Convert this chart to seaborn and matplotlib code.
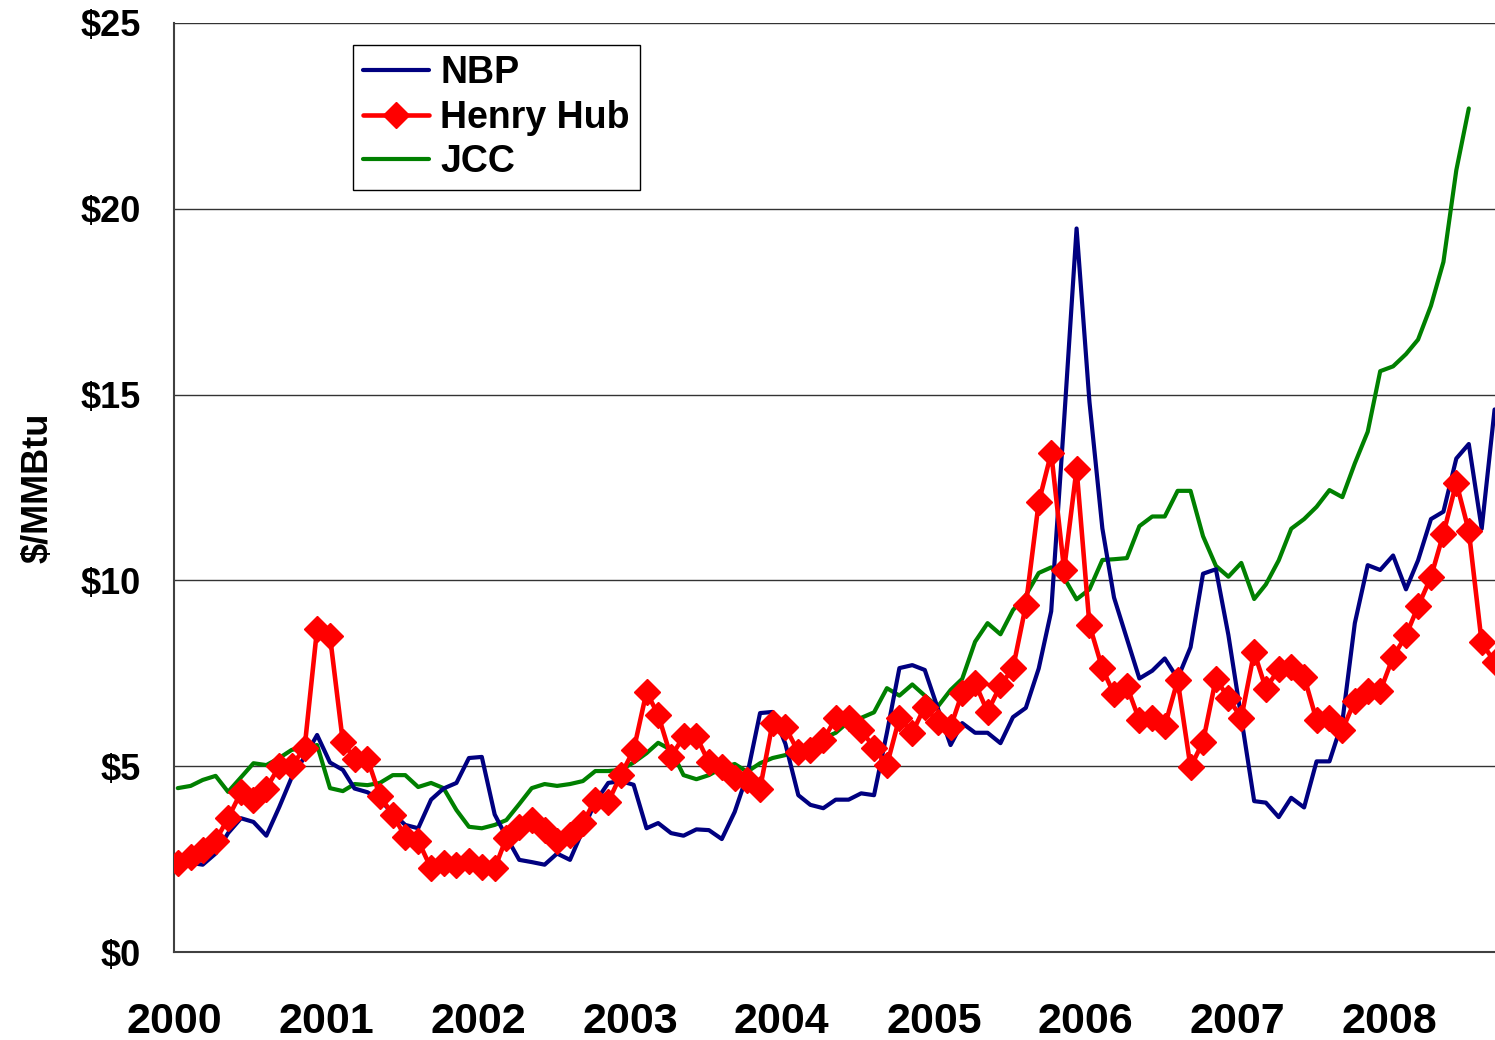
import pandas as pd
import matplotlib
matplotlib.use("Agg")
import matplotlib.pyplot as plt
import matplotlib.dates as mdates
import seaborn as sns

# monthly prices, $/MMBtu, Jan 2000 onwards
nbp = [2.4, 2.4, 2.35, 2.65, 3.2, 3.6, 3.5, 3.13, 3.9, 4.7, 5.25, 5.84,
       5.1, 4.9, 4.4, 4.3, 4.1, 3.73, 3.42, 3.33, 4.1, 4.4, 4.55, 5.22,
       5.25, 3.7, 3.1, 2.48, 2.42, 2.35, 2.65, 2.48, 3.28, 4.04, 4.55, 4.6,
       4.5, 3.33, 3.47, 3.2, 3.13, 3.3, 3.28, 3.04, 3.77, 4.76, 6.43, 6.46,
       5.6, 4.22, 3.96, 3.87, 4.1, 4.1, 4.27, 4.22, 5.9, 7.64, 7.72, 7.59,
       6.57, 5.57, 6.16, 5.9, 5.9, 5.62, 6.32, 6.57, 7.63, 9.17, 14.3, 19.47,
       14.8, 11.4, 9.54, 8.43, 7.36, 7.57, 7.9, 7.36, 8.2, 10.18, 10.3, 8.53,
       6.3, 4.06, 4.02, 3.63, 4.15, 3.89, 5.13, 5.13, 6.2, 8.85, 10.41, 10.28,
       10.67, 9.76, 10.54, 11.65, 11.85, 13.28, 13.67, 11.39, 14.6]

henry_hub = [2.4, 2.56, 2.74, 3.0, 3.6, 4.3, 4.1, 4.4, 5.0, 5.0, 5.5, 8.7,
             8.5, 5.65, 5.2, 5.2, 4.2, 3.7, 3.1, 3.0, 2.25, 2.4, 2.35, 2.45,
             2.3, 2.25, 3.07, 3.37, 3.55, 3.28, 3.0, 3.15, 3.47, 4.1, 4.04, 4.76,
             5.43, 7.0, 6.38, 5.25, 5.8, 5.8, 5.1, 4.98, 4.68, 4.63, 4.4, 6.15,
             6.05, 5.38, 5.43, 5.7, 6.3, 6.3, 5.97, 5.5, 5.03, 6.3, 5.9, 6.6,
             6.2, 6.05, 6.97, 7.24, 6.46, 7.18, 7.63, 9.33, 12.1, 13.43, 10.29, 13.0,
             8.8, 7.63, 6.94, 7.15, 6.24, 6.3, 6.08, 7.31, 4.97, 5.66, 7.36, 6.83,
             6.3, 8.07, 7.09, 7.61, 7.67, 7.41, 6.24, 6.3, 5.98, 6.76, 7.02, 7.02,
             7.94, 8.52, 9.3, 10.09, 11.26, 12.63, 11.33, 8.33, 7.8]

jcc = [4.41, 4.47, 4.63, 4.74, 4.31, 4.7, 5.08, 5.03, 5.22, 5.44, 5.5, 5.57,
       4.41, 4.33, 4.52, 4.49, 4.55, 4.76, 4.76, 4.44, 4.55, 4.41, 3.82, 3.37,
       3.33, 3.42, 3.55, 3.98, 4.41, 4.52, 4.47, 4.52, 4.6, 4.87, 4.87, 4.9,
       5.1, 5.35, 5.63, 5.44, 4.76, 4.65, 4.76, 4.95, 5.06, 4.85, 5.08, 5.22,
       5.3, 5.45, 5.6, 5.75, 5.9, 6.2, 6.3, 6.45, 7.1, 6.9, 7.2, 6.9,
       6.6, 7.05, 7.35, 8.35, 8.85, 8.55, 9.2, 9.6, 10.2, 10.35, 10.07, 9.49,
       9.76, 10.55, 10.57, 10.6, 11.46, 11.72, 11.72, 12.41, 12.41, 11.19, 10.39, 10.1,
       10.47, 9.5, 9.89, 10.54, 11.39, 11.65, 11.98, 12.43, 12.24, 13.15, 14.0, 15.63,
       15.76, 16.09, 16.48, 17.39, 18.57, 21.04, 22.7]

y_ticks = [0, 5, 10, 15, 20, 25]

months = pd.date_range("2000-01-01", periods=len(nbp), freq="MS") + pd.Timedelta(days=9)
df_nbp = pd.DataFrame({"date": months, "price": nbp})
df_hh = pd.DataFrame({"date": months[:len(henry_hub)], "price": henry_hub})
df_jcc = pd.DataFrame({"date": months[:len(jcc)], "price": jcc})

sns.set_style("white")
plt.rcParams["font.family"] = ["Liberation Sans", "DejaVu Sans"]
plt.rcParams["font.weight"] = "bold"
plt.rcParams["text.color"] = "black"
plt.rcParams["axes.labelcolor"] = "black"

fig = plt.figure(figsize=(14.95, 10.4), dpi=100)
ax = fig.add_axes([0.1164, 0.0846, 0.8836, 0.8933])

sns.lineplot(data=df_jcc, x="date", y="price", ax=ax, color="#008000",
             linewidth=3, label="JCC", zorder=2)
sns.lineplot(data=df_nbp, x="date", y="price", ax=ax, color="#000080",
             linewidth=3, label="NBP", zorder=3)
sns.lineplot(data=df_hh, x="date", y="price", ax=ax, color="#ff0000",
             linewidth=3.3, marker="D", markersize=13.5, markeredgecolor="#ff0000",
             markeredgewidth=1, label="Henry Hub", zorder=4)

ax.set_xlim(pd.Timestamp("2000-01-01"), pd.Timestamp("2008-09-11"))
ax.set_ylim(0, 25)
ax.set_yticks(y_ticks)
ax.set_yticklabels([f"${v}" for v in y_ticks])
ax.xaxis.set_major_locator(mdates.YearLocator())
ax.xaxis.set_major_formatter(mdates.DateFormatter("%Y"))

ax.grid(axis="y", color="#333333", linewidth=1)
ax.grid(axis="x", visible=False)
ax.set_axisbelow(True)
for side in ["top", "right"]:
    ax.spines[side].set_visible(False)
for side in ["left", "bottom"]:
    ax.spines[side].set_color("#404040")
    ax.spines[side].set_linewidth(1.5)

ax.tick_params(axis="y", direction="out", length=10, width=1.2, color="#404040",
               labelcolor="black", pad=14, labelsize=26)
ax.tick_params(axis="x", direction="out", length=10, width=1.2, color="#404040",
               labelcolor="black", pad=26, labelsize=31)
for lbl in ax.get_xticklabels() + ax.get_yticklabels():
    lbl.set_fontweight("bold")

ax.set_xlabel("")
ax.set_ylabel("$/MMBtu", fontsize=26, fontweight="bold", labelpad=18, color="black")

handles, labels = ax.get_legend_handles_labels()
order = [labels.index(n) for n in ["NBP", "Henry Hub", "JCC"]]
leg = ax.legend([handles[i] for i in order], [labels[i] for i in order],
                loc="upper left", bbox_to_anchor=(0.1355, 0.976), borderaxespad=0,
                fancybox=False, framealpha=1, edgecolor="black",
                prop={"size": 27, "weight": "bold"}, handlelength=1.75,
                handletextpad=0.3, labelspacing=0.22, borderpad=0.27)
leg.get_frame().set_linewidth(1)
for t in leg.get_texts():
    t.set_color("black")

fig.savefig("out.png", dpi=100)
